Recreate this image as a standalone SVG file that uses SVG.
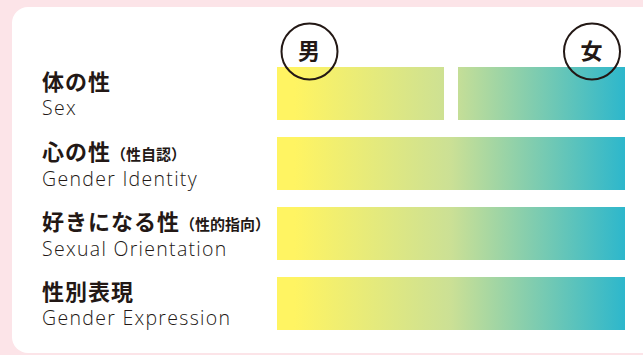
<svg xmlns="http://www.w3.org/2000/svg" width="643" height="355" viewBox="0 0 643 355">
<style>
.jp{font-family:"Noto Sans CJK JP","Noto Sans CJK SC",sans-serif;font-weight:700;fill:#231815;font-size:22px;letter-spacing:1px}
.en{font-family:"Open Sans","Noto Sans",sans-serif;font-weight:300;font-size:19.5px;letter-spacing:1.3px;fill:#231815}
.sm{font-size:15px;letter-spacing:0}
.ring{fill:none;stroke:#231815;stroke-width:2}
</style>
<defs>
<linearGradient id="g" gradientUnits="userSpaceOnUse" x1="277" y1="0" x2="625" y2="0">
<stop offset="0.05" stop-color="#fff462"/>
<stop offset="0.5" stop-color="#cbe095"/>
<stop offset="1" stop-color="#2db7cc"/>
</linearGradient>
</defs>
<rect width="643" height="355" fill="#fce4e8"/>
<rect x="12" y="7" width="660" height="346" rx="16" fill="#ffffff"/>
<g id="row-sex">
<rect x="277" y="67" width="167" height="53" fill="url(#g)"/>
<rect x="458" y="67" width="167" height="53" fill="url(#g)"/>
<text class="jp" x="42" y="90">体の性</text>
<text class="en" x="42" y="115">Sex</text>
</g>
<g id="label-male">
<circle class="ring" cx="309.5" cy="51.5" r="28"/>
<text class="jp" x="309.5" y="59" font-size="21" text-anchor="middle" letter-spacing="0">男</text>
</g>
<g id="label-female">
<circle class="ring" cx="592" cy="51.5" r="28"/>
<text class="jp" x="592" y="59" font-size="21" text-anchor="middle" letter-spacing="0">女</text>
</g>
<g id="row-identity">
<rect x="277" y="137" width="348" height="53" fill="url(#g)"/>
<text class="jp" x="42" y="160">心の性<tspan class="sm">（性自認）</tspan></text>
<text class="en" x="42" y="186">Gender Identity</text>
</g>
<g id="row-orientation">
<rect x="277" y="207" width="348" height="53" fill="url(#g)"/>
<text class="jp" x="42" y="230">好きになる性<tspan class="sm">（性的指向）</tspan></text>
<text class="en" x="42" y="256">Sexual Orientation</text>
</g>
<g id="row-expression">
<rect x="277" y="277" width="348" height="53" fill="url(#g)"/>
<text class="jp" x="42" y="300">性別表現</text>
<text class="en" x="42" y="325">Gender Expression</text>
</g>
<g id="connectors"/>
</svg>
